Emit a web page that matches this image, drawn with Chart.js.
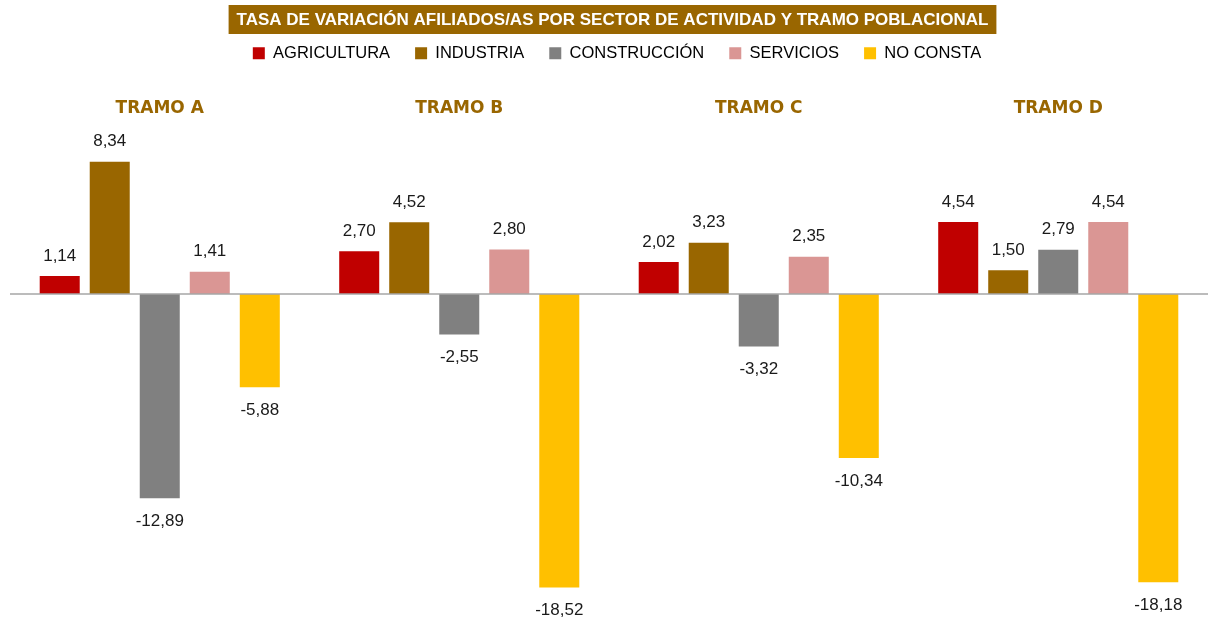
<!DOCTYPE html>
<html><head><meta charset="utf-8">
<script src="https://cdn.jsdelivr.net/npm/chart.js@4"></script>
<style>html,body{margin:0;padding:0;background:#fff}</style>
</head><body>
<canvas id="c" width="1208" height="620"></canvas>
<script>
const chartTitle = 'TASA DE VARIACIÓN AFILIADOS/AS POR SECTOR DE ACTIVIDAD Y TRAMO POBLACIONAL';
const categories = ['TRAMO A', 'TRAMO B', 'TRAMO C', 'TRAMO D'];
const seriesNames = ['AGRICULTURA', 'INDUSTRIA', 'CONSTRUCCIÓN', 'SERVICIOS', 'NO CONSTA'];
const agricultura = [1.14, 2.70, 2.02, 4.54];
const industria = [8.34, 4.52, 3.23, 1.50];
const construccion = [-12.89, -2.55, -3.32, 2.79];
const servicios = [1.41, 2.80, 2.35, 4.54];
const noConsta = [-5.88, -18.52, -10.34, -18.18];
const seriesColors = ['#C00000', '#996600', '#808080', '#DA9694', '#FFC000'];
const yMin = -20, yMax = 10;

const seriesValues = [agricultura, industria, construccion, servicios, noConsta];
const BROWN = '#996600';

const titleBox = {
  id: 'titleBox',
  beforeDraw(chart) {
    const ctx = chart.ctx;
    ctx.save();
    ctx.font = 'bold 17px "Liberation Sans", Arial, sans-serif';
    const w = ctx.measureText(chartTitle).width;
    const cx = 612.5, cy = 19.5;
    ctx.fillStyle = BROWN;
    ctx.fillRect(cx - w / 2 - 8, 5, w + 16, 29);
    ctx.fillStyle = '#FFFFFF';
    ctx.textAlign = 'center';
    ctx.textBaseline = 'middle';
    ctx.fillText(chartTitle, cx, cy + 1);
    ctx.restore();
  }
};

const legendSpace = {
  id: 'legendSpace',
  beforeInit(chart) {
    const orig = chart.legend.fit;
    chart.legend.fit = function () {
      orig.bind(chart.legend)();
      this.height = 115.5;
    };
  },
  afterLayout(chart) {
    chart.legend.left += 8;
    chart.legend.right += 8;
  }
};

const zeroLine = {
  id: 'zeroLine',
  afterDatasetsDraw(chart) {
    const ctx = chart.ctx, a = chart.chartArea;
    const y0 = chart.scales.y.getPixelForValue(0);
    ctx.save();
    ctx.strokeStyle = '#A6A6A6';
    ctx.lineWidth = 1.5;
    ctx.beginPath();
    ctx.moveTo(a.left, y0);
    ctx.lineTo(a.right, y0);
    ctx.stroke();
    ctx.restore();
  }
};

const valueLabels = {
  id: 'valueLabels',
  afterDraw(chart) {
    const ctx = chart.ctx;
    ctx.save();
    ctx.font = '17px "Liberation Sans", Arial, sans-serif';
    ctx.fillStyle = '#1A1A1A';
    ctx.textAlign = 'center';
    ctx.textBaseline = 'middle';
    chart.data.datasets.forEach((ds, di) => {
      const meta = chart.getDatasetMeta(di);
      meta.data.forEach((bar, i) => {
        const v = ds.data[i];
        const txt = v.toFixed(2).replace('.', ',');
        const y = v >= 0 ? bar.y - 20 : bar.y + 23;
        ctx.fillText(txt, bar.x, y);
      });
    });
    ctx.font = 'bold 17px "DejaVu Sans", sans-serif';
    ctx.fillStyle = BROWN;
    const top = chart.chartArea.top;
    categories.forEach((c, i) => {
      ctx.fillText(c, chart.scales.x.getPixelForValue(i), top - 27);
    });
    ctx.restore();
  }
};

new Chart(document.getElementById('c'), {
  type: 'bar',
  data: {
    labels: categories,
    datasets: seriesNames.map((n, i) => ({
      label: n,
      data: seriesValues[i],
      backgroundColor: seriesColors[i],
      borderWidth: 0,
      categoryPercentage: 0.835,
      barPercentage: 0.8
    }))
  },
  options: {
    responsive: false,
    animation: false,
    devicePixelRatio: 1,
    layout: { padding: { top: 20, left: 10, right: 0, bottom: 9 } },
    plugins: {
      title: { display: false },
      tooltip: { enabled: false },
      legend: {
        position: 'top',
        labels: {
          boxWidth: 12,
          boxHeight: 12,
          padding: 25,
          color: '#000',
          font: { family: '"Liberation Sans", Arial, sans-serif', size: 16.5 }
        }
      }
    },
    scales: {
      x: { display: false },
      y: { display: false, min: yMin, max: yMax }
    }
  },
  plugins: [titleBox, legendSpace, zeroLine, valueLabels]
});
</script>
</body></html>
